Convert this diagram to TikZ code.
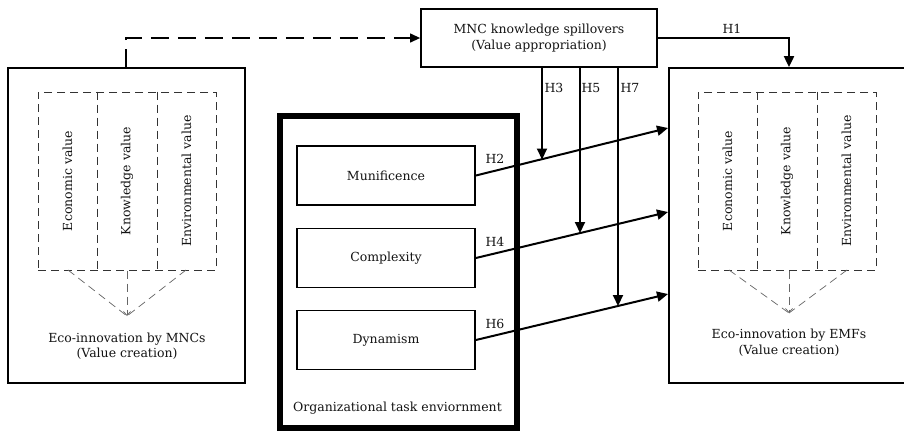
\documentclass[tikz,border=0pt]{standalone}
\usepackage{fontspec}
\setmainfont{DejaVu Serif}
\usetikzlibrary{arrows.meta}
\definecolor{dashgray}{HTML}{333333}
\definecolor{lightgray2}{HTML}{666666}
\begin{document}
\begin{tikzpicture}[x=1pt,y=-1pt,
  every node/.style={font=\fontsize{12.5}{15.5}\selectfont, text=black!92},
  bigbox/.style={draw, line width=1.8pt, inner sep=0pt},
  envbox/.style={draw, line width=1.8pt, inner sep=0pt, minimum width=178pt, minimum height=59pt},
  thickbox/.style={draw, line width=6pt, inner sep=0pt},
  valbox/.style={draw=dashgray, line width=1pt, dash pattern=on 8pt off 5pt, inner sep=0pt, minimum width=178pt, minimum height=178pt},
  divline/.style={draw=dashgray, line width=1pt, dash pattern=on 8pt off 5pt},
  conv/.style={draw=lightgray2, line width=0.7pt, dash pattern=on 8pt off 5pt},
  hyp/.style={draw, line width=2pt, -{Triangle[length=11pt,width=10pt]}},
  hlabel/.style={font=\fontsize{12.5}{14}\selectfont, inner sep=1pt},
  vtext/.style={rotate=90, inner sep=0pt}
]
\useasboundingbox (0,0) rectangle (904,432);
\fill[white] (0,0) rectangle (904,432);

% left box
\node[bigbox, minimum width=237pt, minimum height=315pt] (L) at (126.5,225.5) {};
\node[valbox] (LV) at (127,181) {};
\coordinate (L1) at (67.5,181);
\coordinate (L2) at (127,181);
\coordinate (L3) at (186.5,181);
\draw[divline] (LV.north -| 97,0) -- (LV.south -| 97,0);
\draw[divline] (LV.north -| 157,0) -- (LV.south -| 157,0);
\node[vtext] at (L1) {Economic value};
\node[vtext] at (L2) {Knowledge value};
\node[vtext] at (L3) {Environmental value};
\coordinate (Lc) at (127,316);
\draw[conv] (68,270) -- (Lc);
\draw[conv] (186,270) -- (Lc);
\draw[conv, -{Straight Barb[length=4pt,width=7pt]}] (LV.south) -- (Lc);
\node[align=center] (Lt) at (127,346) {Eco-innovation by MNCs\\(Value creation)};

% right box
\node[bigbox, minimum width=245pt, minimum height=315pt] (R) at (791.5,225.5) {};
\node[valbox] (RV) at (787,181) {};
\coordinate (R1) at (727.5,181);
\coordinate (R2) at (787,181);
\coordinate (R3) at (846.5,181);
\draw[divline] (RV.north -| 757,0) -- (RV.south -| 757,0);
\draw[divline] (RV.north -| 817,0) -- (RV.south -| 817,0);
\node[vtext] at (R1) {Economic value};
\node[vtext] at (R2) {Knowledge value};
\node[vtext] at (R3) {Environmental value};
\coordinate (Rc) at (789,313);
\draw[conv] (729,270) -- (Rc);
\draw[conv] (847,270) -- (Rc);
\draw[conv, -{Straight Barb[length=4pt,width=7pt]}] (RV.south -| Rc) -- (Rc);
\node[align=center] (Rt) at (789,342.5) {Eco-innovation by EMFs\\(Value creation)};

% MNC box
\node[bigbox, minimum width=236pt, minimum height=58pt, align=center] (M) at (539,38) {MNC knowledge spillovers\\(Value appropriation)};

% org box
\node[thickbox, minimum width=237pt, minimum height=312pt] (O) at (398.5,272) {};
\node[envbox] (Mu) at (386,175.5) {Munificence};
\node[envbox] (Co) at (386,258) {Complexity};
\node[envbox] (Dy) at (386,340) {Dynamism};
\node (Ot) at (397.5,408) {Organizational task enviornment};

% dashed link
\draw[line width=1.2pt, dash pattern=on 18pt off 9pt, -{Triangle[length=10pt,width=9pt]}]
  (L.north -| 126,0) -- (126,38) -- (M.west);

% H1
\draw[hyp] (M.east) -- (789,38) -- (R.north -| 789,0);
\node[hlabel] at (732,29) {H1};

% main arrows
\coordinate (R2a) at (668,128);
\coordinate (R4a) at (668,212);
\coordinate (R6a) at (668,294);
\draw[hyp] (Mu.east) -- (R2a);
\draw[hyp] (Co.east) -- (R4a);
\draw[hyp] (Dy.east) -- (R6a);
\node[hlabel] at (495,159) {H2};
\node[hlabel] at (495,242) {H4};
\node[hlabel] at (495,324) {H6};

% moderating arrows
\draw[hyp] (M.south -| 542,0) -- (542,159.5);
\draw[hyp] (M.south -| 580,0) -- (580,233);
\draw[hyp] (M.south -| 618,0) -- (618,306);
\node[hlabel] at (554,88) {H3};
\node[hlabel] at (591,88) {H5};
\node[hlabel] at (630,88) {H7};
\end{tikzpicture}
\end{document}
